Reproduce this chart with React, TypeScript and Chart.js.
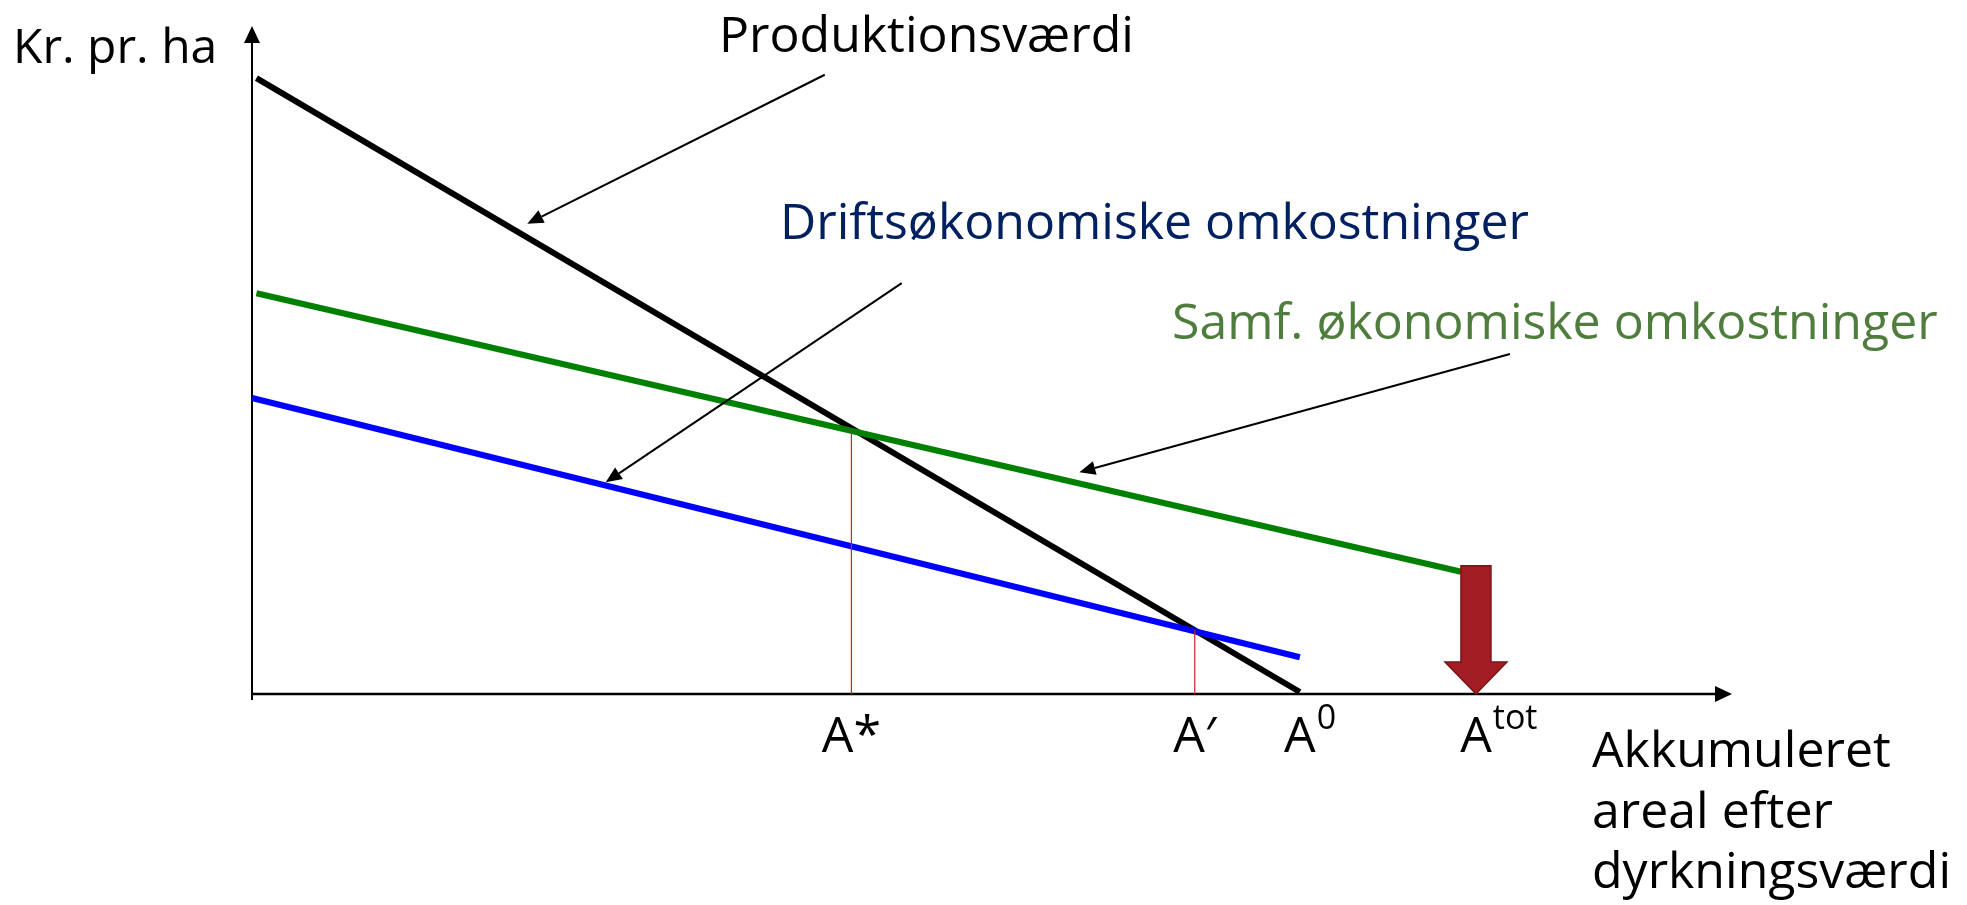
import React, { useEffect, useRef } from "react";
import { Chart, registerables } from "chart.js";

Chart.register(...registerables);

// ---- data (chart units: x = accumulated area, y = kr. per ha) ----
const axisMin = 0;
const axisMax = 100;

const productionX = [0.3, 70.8];
const productionY = [92.2, 0.3];

const socialCostX = [0.3, 81.7];
const socialCostY = [60.0, 18.3];

const privateCostX = [0, 70.8];
const privateCostY = [44.3, 5.5];

const dropLineX = [40.5, 63.7];
const dropLineTop = [39.7, 9.6];

const tickValues = [40.5, 63.7, 70.8, 82.7];
const tickBase = ["A*", "A\u2032", "A", "A"];
const tickSup = ["", "", "0", "tot"];

const shiftArrowX = 82.7;
const shiftArrowTop = 19.2;

const calloutFromX = [38.7, 43.9, 85.0];
const calloutFromY = [92.7, 61.5, 50.9];
const calloutToX = [18.6, 23.9, 55.9];
const calloutToY = [70.4, 31.7, 33.2];

const yAxisTitle = "Kr. pr. ha";
const xAxisTitle = ["Akkumuleret", "areal efter", "dyrkningsværdi"];
const seriesLabels = [
  "Produktionsværdi",
  "Driftsøkonomiske omkostninger",
  "Samf. økonomiske omkostninger",
];

const FONT = '"Open Sans", "Noto Sans", sans-serif';
const FS = 50;

function pts(xs: number[], ys: number[]) {
  return xs.map((x, i) => ({ x, y: ys[i] }));
}

const decorPlugin = {
  id: "decor",
  beforeDatasetsDraw(chart: any) {
    const ctx = chart.ctx as CanvasRenderingContext2D;
    const xs = chart.scales.x;
    const ys = chart.scales.y;
    const x0 = xs.getPixelForValue(axisMin);
    const y0 = ys.getPixelForValue(axisMin);
    const xEnd = xs.getPixelForValue(axisMax);
    const yEnd = ys.getPixelForValue(axisMax);
    ctx.save();
    ctx.fillStyle = "#000";
    ctx.strokeStyle = "#000";
    // x axis
    ctx.lineWidth = 2.5;
    ctx.beginPath();
    ctx.moveTo(x0, y0);
    ctx.lineTo(xEnd - 12, y0);
    ctx.stroke();
    ctx.beginPath();
    ctx.moveTo(xEnd, y0);
    ctx.lineTo(xEnd - 17, y0 - 8);
    ctx.lineTo(xEnd - 17, y0 + 8);
    ctx.closePath();
    ctx.fill();
    // y axis
    ctx.lineWidth = 2;
    ctx.beginPath();
    ctx.moveTo(x0, y0 + 6);
    ctx.lineTo(x0, yEnd + 12);
    ctx.stroke();
    ctx.beginPath();
    ctx.moveTo(x0, yEnd);
    ctx.lineTo(x0 - 8, yEnd + 17);
    ctx.lineTo(x0 + 8, yEnd + 17);
    ctx.closePath();
    ctx.fill();
    ctx.restore();
  },
  afterDraw(chart: any) {
    const ctx = chart.ctx as CanvasRenderingContext2D;
    const xs = chart.scales.x;
    const ys = chart.scales.y;
    const px = (v: number) => xs.getPixelForValue(v);
    const py = (v: number) => ys.getPixelForValue(v);
    ctx.save();

    // red shift arrow
    const cx = px(shiftArrowX);
    const top = py(shiftArrowTop);
    const tip = py(axisMin);
    const sw = 15;
    const hw = 31;
    const hl = 32;
    ctx.beginPath();
    ctx.moveTo(cx - sw, top);
    ctx.lineTo(cx + sw, top);
    ctx.lineTo(cx + sw, tip - hl);
    ctx.lineTo(cx + hw, tip - hl);
    ctx.lineTo(cx, tip);
    ctx.lineTo(cx - hw, tip - hl);
    ctx.lineTo(cx - sw, tip - hl);
    ctx.closePath();
    ctx.fillStyle = "#A11C23";
    ctx.fill();
    ctx.lineWidth = 1.5;
    ctx.strokeStyle = "#7A1418";
    ctx.stroke();

    // callout arrows
    ctx.strokeStyle = "#000";
    ctx.fillStyle = "#000";
    ctx.lineWidth = 2;
    for (let i = 0; i < calloutFromX.length; i++) {
      const ax = px(calloutFromX[i]);
      const ay = py(calloutFromY[i]);
      const bx = px(calloutToX[i]);
      const by = py(calloutToY[i]);
      const ang = Math.atan2(by - ay, bx - ax);
      const L = 16;
      const W = 7;
      const baseX = bx - L * Math.cos(ang);
      const baseY = by - L * Math.sin(ang);
      ctx.beginPath();
      ctx.moveTo(ax, ay);
      ctx.lineTo(baseX, baseY);
      ctx.stroke();
      ctx.beginPath();
      ctx.moveTo(bx, by);
      ctx.lineTo(baseX + W * Math.sin(ang), baseY - W * Math.cos(ang));
      ctx.lineTo(baseX - W * Math.sin(ang), baseY + W * Math.cos(ang));
      ctx.closePath();
      ctx.fill();
    }

    // texts
    ctx.textBaseline = "alphabetic";
    ctx.textAlign = "left";
    ctx.font = `${FS}px ${FONT}`;
    ctx.fillStyle = "#000";
    ctx.font = `48px ${FONT}`;
    ctx.fillText(yAxisTitle, 13, 63);
    ctx.font = `${FS}px ${FONT}`;
    ctx.fillText(seriesLabels[0], 719, 52);
    ctx.fillStyle = "#002060";
    ctx.fillText(seriesLabels[1], 780, 239);
    ctx.fillStyle = "#4F7D3D";
    ctx.fillText(seriesLabels[2], 1172, 339);
    ctx.fillStyle = "#000";
    xAxisTitle.forEach((t, i) => ctx.fillText(t, 1592, 767 + i * 60.5));

    // x tick labels
    for (let i = 0; i < tickValues.length; i++) {
      ctx.font = `${FS}px ${FONT}`;
      const w = ctx.measureText(tickBase[i]).width;
      const left = px(tickValues[i]) - w / 2;
      ctx.fillText(tickBase[i], left, 752);
      if (tickSup[i]) {
        ctx.font = `34px ${FONT}`;
        ctx.fillText(tickSup[i], left + w + 1, 729);
      }
    }
    ctx.restore();
  },
};

export default function App() {
  const ref = useRef<HTMLCanvasElement | null>(null);
  useEffect(() => {
    if (!ref.current) return;
    const line = (data: any[], color: string, width: number) => ({
      data,
      borderColor: color,
      backgroundColor: color,
      borderWidth: width,
      pointRadius: 0,
      showLine: true,
      fill: false,
      clip: false as any,
    });
    const chart = new Chart(ref.current, {
      type: "scatter",
      data: {
        datasets: [
          line(pts([dropLineX[0], dropLineX[0]], [0, dropLineTop[0]]), "#C0282D", 1.2),
          line(pts([dropLineX[1], dropLineX[1]], [0, dropLineTop[1]]), "#C0282D", 1.2),
          line(pts(socialCostX, socialCostY), "#008000", 6.2),
          line(pts(privateCostX, privateCostY), "#0000FF", 6.2),
          line(pts(productionX, productionY), "#000000", 6),
        ],
      },
      options: {
        animation: false,
        responsive: false,
        maintainAspectRatio: false,
        devicePixelRatio: 1,
        layout: { padding: { left: 252, right: 235, top: 26, bottom: 211 } },
        scales: {
          x: { type: "linear", min: axisMin, max: axisMax, display: false },
          y: { type: "linear", min: axisMin, max: axisMax, display: false },
        },
        plugins: { legend: { display: false }, tooltip: { enabled: false } },
        events: [],
      },
      plugins: [decorPlugin],
    });
    return () => chart.destroy();
  }, []);
  return (
    <div style={{ position: "fixed", left: 0, top: 0, width: 1967, height: 905, background: "#fff" }}>
      <canvas ref={ref} width={1967} height={905} style={{ display: "block" }} />
    </div>
  );
}
